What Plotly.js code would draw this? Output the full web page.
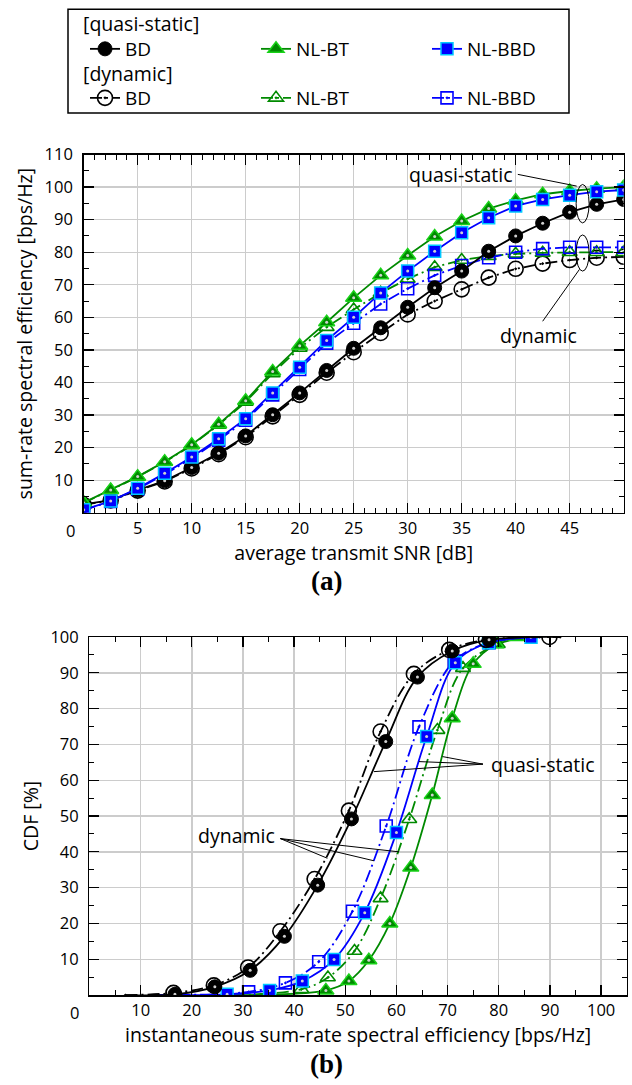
<!DOCTYPE html>
<html><head><meta charset="utf-8">
<script src="https://cdn.plot.ly/plotly-3.0.1.min.js"></script>
<style>body{margin:0;background:#fff}</style>
</head><body><div id="chart" style="width:632px;height:1085px"></div>
<script>
// ---------- (a) sum-rate vs SNR ----------
const snr = [0,2.5,5,7.5,10,12.5,15,17.5,20,22.5,25,27.5,30,32.5,35,37.5,40,42.5,45,47.5,50];
const seBDqs   = [2.6,3.9,7.0,9.8,13.9,18.3,23.6,30.1,36.8,43.7,50.5,56.8,63.1,69.1,74.2,80.3,85.0,88.9,92.3,94.7,96.2];
const seBDdyn  = [2.4,3.8,6.8,9.6,13.6,18.0,23.2,29.6,36.2,43.0,49.3,55.2,60.9,65.0,68.6,72.2,74.9,76.5,77.6,78.3,78.6];
const seBTqs   = [3.1,7.0,11.1,15.7,20.9,27.2,34.4,43.4,51.3,58.5,66.0,72.9,79.0,84.8,89.6,93.4,95.9,97.8,98.8,99.5,100.0];
const seBTdyn  = [3.0,6.9,11.0,15.6,20.7,27.0,34.0,42.8,50.6,57.0,62.4,67.5,71.8,75.4,77.6,78.8,79.5,79.8,80.0,80.0,80.0];
const seBBDqs  = [0.9,3.6,7.5,12.1,17.1,22.7,28.9,36.8,44.7,52.9,60.0,67.5,74.2,80.3,86.0,90.6,94.2,96.2,97.5,98.6,99.1];
const seBBDdyn = [0.8,3.5,7.3,11.8,16.7,22.3,28.4,36.2,44.0,52.1,58.2,64.1,68.8,72.9,75.9,78.3,80.0,81.1,81.5,81.5,81.5];

// ---------- (b) CDF ----------
const cdfBDqsX  = [7,16.7,24.5,31.4,38.1,44.6,51.2,57.9,64.1,70.9,78.1,92];
const cdfBDqsY  = [0,0.2,2.3,6.9,16.4,30.7,49.2,70.8,88.8,96.1,99.2,100];
const cdfBDdynX = [7,16.4,24.3,31.0,37.3,44.0,50.7,56.9,63.4,70.3,77.5,89.9,92];
const cdfBDdynY = [0,0.6,2.7,7.7,17.8,32.4,51.5,73.6,89.7,96.4,99.2,100,100];
const cdfBBDqsX  = [13,26.9,35.2,41.6,47.8,53.8,60.0,65.9,71.5,78.0,86.3,88];
const cdfBBDqsY  = [0,0.2,1.3,3.9,9.9,23.0,45.4,72.2,92.8,98.4,99.9,100];
const cdfBBDdynX = [13,31.1,38.3,44.8,51.4,58.0,64.4,71.3,78.1,88];
const cdfBBDdynY = [0,0.9,3.4,9.3,23.4,47.2,74.9,93.3,98.4,100];
const cdfBTqsX  = [30,46.2,50.7,54.6,58.7,62.8,67.0,70.9,75.0,79.4,83.5,86];
const cdfBTqsY  = [0,1.3,3.9,9.7,20.0,35.6,55.9,77.3,92.5,98.0,100,100];
const cdfBTdynX = [28,41.4,46.6,51.8,56.9,62.5,68.0,73.0,79.8,86];
const cdfBTdynY = [0,1.6,4.9,12.3,27.0,49.1,74.0,91.3,98.0,100];

const legendTitles = ['[quasi-static]', '[dynamic]'];

const FONT = '"Open Sans", sans-serif';
const BLACK = '#000000', GREEN = '#008a00', LIME = '#19d219', BLUE = '#0000ff', CYAN = '#00c8ff';
const DASHDOT = '12px,4px,2px,4px';

const styles = {
  BDqs:  {color: BLACK, dash: 'solid', marker: {symbol: 'circle', size: 14, color: BLACK, line: {color: BLACK, width: 1}}, filled: true},
  BDdyn: {color: BLACK, dash: DASHDOT, marker: {symbol: 'circle-open-dot', size: 15, color: BLACK, line: {color: BLACK, width: 1.6}}},
  BTqs:  {color: GREEN, dash: 'solid', marker: {symbol: 'triangle-up', size: 14, color: GREEN, line: {color: LIME, width: 1.5}}, filled: true},
  BTdyn: {color: GREEN, dash: DASHDOT, marker: {symbol: 'triangle-up-open-dot', size: 13, color: GREEN, line: {color: GREEN, width: 1.6}}},
  BBDqs: {color: BLUE, dash: 'solid', marker: {symbol: 'square', size: 12, color: BLUE, line: {color: CYAN, width: 1.5}}, filled: true},
  BBDdyn:{color: BLUE, dash: DASHDOT, marker: {symbol: 'square-open-dot', size: 12, color: BLUE, line: {color: BLUE, width: 1.6}}}
};

const traces = [];
function addSeries(x, y, key, opt) {
  const s = styles[key];
  const n = x.length;
  const marker = JSON.parse(JSON.stringify(s.marker));
  marker.opacity = 1;
  if (opt.tails) marker.size = x.map((v, i) => (i === 0 || i === n - 1) ? 0 : s.marker.size);
  traces.push({
    x: x, y: y, xaxis: opt.xa, yaxis: opt.ya, type: 'scatter', mode: 'lines+markers',
    name: opt.name, legend: opt.legend, showlegend: !!opt.legend,
    line: {color: s.color, width: 1.8, dash: s.dash, shape: opt.spline ? 'spline' : 'linear', smoothing: 1},
    marker: marker, hoverinfo: 'x+y', cliponaxis: true
  });
  if (s.filled) {
    const keep = (v, i) => !opt.tails || (i > 0 && i < n - 1);
    traces.push({x: x.filter(keep), y: y.filter(keep), xaxis: opt.xa, yaxis: opt.ya, type: 'scatter', mode: 'markers',
      showlegend: false, hoverinfo: 'skip', marker: {symbol: 'circle', size: 3, color: '#d0d0d0', opacity: 1}});
  }
}

// top plot
addSeries(snr, seBDdyn, 'BDdyn', {xa: 'x', ya: 'y', name: 'BD', legend: 'legend2'});
addSeries(snr, seBTdyn, 'BTdyn', {xa: 'x', ya: 'y', name: 'NL-BT', legend: 'legend2'});
addSeries(snr, seBBDdyn, 'BBDdyn', {xa: 'x', ya: 'y', name: 'NL-BBD', legend: 'legend2'});
addSeries(snr, seBDqs, 'BDqs', {xa: 'x', ya: 'y', name: 'BD', legend: 'legend'});
addSeries(snr, seBTqs, 'BTqs', {xa: 'x', ya: 'y', name: 'NL-BT', legend: 'legend'});
addSeries(snr, seBBDqs, 'BBDqs', {xa: 'x', ya: 'y', name: 'NL-BBD', legend: 'legend'});

// bottom plot
addSeries(cdfBTdynX, cdfBTdynY, 'BTdyn', {xa: 'x2', ya: 'y2', spline: true, tails: true});
addSeries(cdfBTqsX, cdfBTqsY, 'BTqs', {xa: 'x2', ya: 'y2', spline: true, tails: true});
addSeries(cdfBBDdynX, cdfBBDdynY, 'BBDdyn', {xa: 'x2', ya: 'y2', spline: true, tails: true});
addSeries(cdfBBDqsX, cdfBBDqsY, 'BBDqs', {xa: 'x2', ya: 'y2', spline: true, tails: true});
addSeries(cdfBDdynX, cdfBDdynY, 'BDdyn', {xa: 'x2', ya: 'y2', spline: true, tails: true});
addSeries(cdfBDqsX, cdfBDqsY, 'BDqs', {xa: 'x2', ya: 'y2', spline: true, tails: true});

function axis(extra) {
  return Object.assign({
    showline: true, linecolor: BLACK, linewidth: 1.5, mirror: 'ticks',
    ticks: 'inside', ticklen: 10, tickwidth: 1.3, tickcolor: BLACK,
    showgrid: true, gridcolor: '#cccccc', gridwidth: 1.4, zeroline: false,
    tickfont: {family: FONT, size: 16.5, color: BLACK}, tickmode: 'linear', tick0: 0,
    labelalias: {'0': ''}
  }, extra);
}
const TF = {family: FONT, size: 19.5, color: BLACK};

const legendBase = {xanchor: 'left', yanchor: 'top', orientation: 'h',
  bgcolor: 'rgba(0,0,0,0)', borderwidth: 0, entrywidth: 126, entrywidthmode: 'pixels',
  font: {family: FONT, size: 19}, tracegroupgap: 0, itemwidth: 30};

function note(xref, yref, x, y, text, size, extra) {
  return Object.assign({xref: xref, yref: yref, x: x, y: y, text: text, showarrow: false,
    xanchor: 'center', yanchor: 'middle', font: {family: FONT, size: size, color: BLACK}}, extra || {});
}

const layout = {
  width: 632, height: 1085, margin: {l: 0, r: 0, t: 0, b: 0},
  paper_bgcolor: '#fff', plot_bgcolor: '#fff', font: {family: FONT, color: BLACK},
  xaxis: axis({domain: [0.1324, 0.9868], range: [0, 50], anchor: 'y', dtick: 5,
    minor: {dtick: 1, ticklen: 5, tickwidth: 1, tickcolor: BLACK, ticks: 'inside', showgrid: false},
    title: {text: 'average transmit SNR [dB]', font: TF, standoff: 4}}),
  yaxis: axis({domain: [0.5274, 0.8576], range: [0, 110], anchor: 'x', dtick: 10, ticklabelstandoff: 6,
    minor: {dtick: 5, ticklen: 5, tickwidth: 1, tickcolor: BLACK, ticks: 'inside', showgrid: false},
    title: {text: 'sum-rate spectral efficiency [bps/Hz]', font: TF, standoff: 6}}),
  xaxis2: axis({domain: [0.1416, 0.9916], range: [0, 105], anchor: 'y2', dtick: 10,
    minor: {dtick: 5, ticklen: 5, tickwidth: 1, tickcolor: BLACK, ticks: 'inside', showgrid: false},
    title: {text: 'instantaneous sum-rate spectral efficiency [bps/Hz]', font: TF, standoff: 8}}),
  yaxis2: axis({domain: [0.0829, 0.4129], range: [0, 100], anchor: 'x2', dtick: 10, ticklabelstandoff: 6,
    minor: {dtick: 5, ticklen: 5, tickwidth: 1, tickcolor: BLACK, ticks: 'inside', showgrid: false},
    title: {text: 'CDF [%]', font: TF, standoff: 6}}),
  legend: Object.assign({}, legendBase, {x: 0.1345, y: 1 - 30 / 1085}),
  legend2: Object.assign({}, legendBase, {x: 0.1345, y: 1 - 79 / 1085}),
  shapes: [
    {type: 'rect', xref: 'paper', yref: 'paper', x0: 0.1076, x1: 0.9003, y0: 0.8959, y1: 0.9914, line: {color: BLACK, width: 1.5}},
    {type: 'line', xref: 'x', yref: 'y', x0: 0, x1: 50, y0: 100, y1: 100, line: {color: '#ff80ff', width: 1.2, dash: 'dot'}, layer: 'below'},
    {type: 'line', xref: 'x2', yref: 'y2', x0: 100, x1: 100, y0: 0, y1: 100, line: {color: '#ff80ff', width: 1.2, dash: 'dot'}, layer: 'below'},
    {type: 'circle', xref: 'x', yref: 'y', x0: 45.6, x1: 46.8, y0: 89, y1: 100.8, line: {color: BLACK, width: 1}},
    {type: 'circle', xref: 'x', yref: 'y', x0: 45.6, x1: 46.8, y0: 74.2, y1: 85.3, line: {color: BLACK, width: 1}},
    {type: 'line', xref: 'x', yref: 'y', x0: 40.2, y0: 103.9, x1: 45.65, y1: 100.3, line: {color: BLACK, width: 1}},
    {type: 'line', xref: 'x', yref: 'y', x0: 45.9, y0: 74.7, x1: 42.5, y1: 58.8, line: {color: BLACK, width: 1}},
    {type: 'line', xref: 'x2', yref: 'y2', x0: 76.9, y0: 64.5, x1: 55.6, y1: 62.4, line: {color: BLACK, width: 1}},
    {type: 'line', xref: 'x2', yref: 'y2', x0: 76.9, y0: 64.5, x1: 64.4, y1: 65.2, line: {color: BLACK, width: 1}},
    {type: 'line', xref: 'x2', yref: 'y2', x0: 76.9, y0: 64.5, x1: 69.0, y1: 66.6, line: {color: BLACK, width: 1}},
    {type: 'line', xref: 'x2', yref: 'y2', x0: 37.3, y0: 43.7, x1: 46.5, y1: 38.2, line: {color: BLACK, width: 1}},
    {type: 'line', xref: 'x2', yref: 'y2', x0: 37.3, y0: 43.7, x1: 55.6, y1: 37.5, line: {color: BLACK, width: 1}},
    {type: 'line', xref: 'x2', yref: 'y2', x0: 37.3, y0: 43.7, x1: 60.5, y1: 40.0, line: {color: BLACK, width: 1}}
  ],
  annotations: [
    note('paper', 'paper', 81 / 632, 1 - 24 / 1085, legendTitles[0], 19.5, {xanchor: 'left'}),
    note('paper', 'paper', 81 / 632, 1 - 73 / 1085, legendTitles[1], 19.5, {xanchor: 'left'}),
    note('x', 'y', 34.9, 103.9, 'quasi-static', 19.5),
    note('x', 'y', 42.1, 54.4, 'dynamic', 19.5),
    note('x2', 'y2', 88.6, 64.5, 'quasi-static', 19.5),
    note('x2', 'y2', 28.8, 44.7, 'dynamic', 19.5),
    note('x', 'paper', 0, 1 - 530 / 1085, '0', 16.5, {xanchor: 'right', xshift: -7}),
    note('x2', 'paper', 0, 1 - 1012 / 1085, '0', 16.5, {xanchor: 'right', xshift: -8}),
    note('paper', 'paper', 0.5174, 1 - 581 / 1085, '<b>(a)</b>', 27, {font: {family: '"Liberation Serif", serif', size: 27, color: BLACK}}),
    note('paper', 'paper', 0.5174, 1 - 1064 / 1085, '<b>(b)</b>', 27, {font: {family: '"Liberation Serif", serif', size: 27, color: BLACK}})
  ]
};

Plotly.newPlot('chart', traces, layout, {staticPlot: true});
</script>
</body></html>
